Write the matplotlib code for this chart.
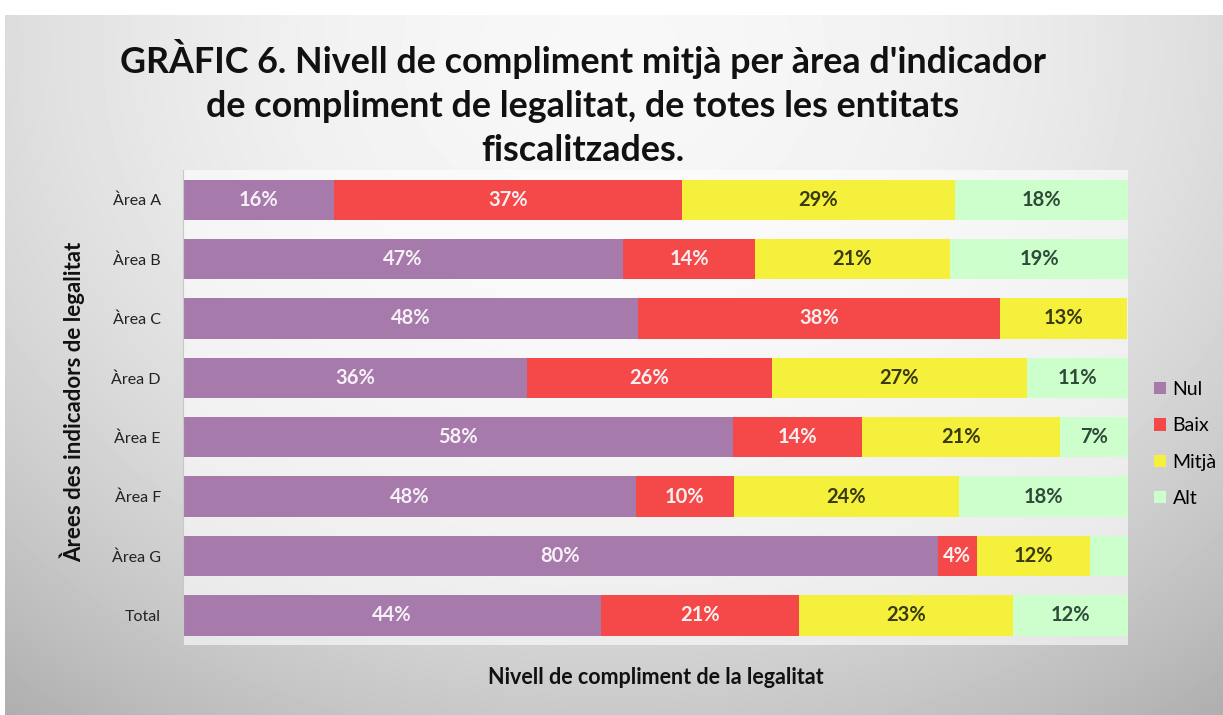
import matplotlib
matplotlib.use("Agg")
import matplotlib.pyplot as plt
import numpy as np

plt.rcParams['font.family'] = ['Lato', 'DejaVu Sans']

areas = ["Àrea A", "Àrea B", "Àrea C", "Àrea D", "Àrea E", "Àrea F", "Àrea G", "Total"]
levels = ["Nul", "Baix", "Mitjà", "Alt"]
nul = [16.0, 46.6, 48.1, 36.4, 58.2, 47.9, 79.9, 44.2]
baix = [36.8, 13.9, 38.4, 25.9, 13.6, 10.4, 4.1, 21.0]
mitja = [28.9, 20.7, 13.4, 27.0, 21.0, 23.8, 12.0, 22.6]
alt = [18.3, 18.8, 0.0, 10.7, 7.2, 17.9, 4.0, 12.2]
# labels that were left out in the original
hidden = [("Àrea G", "Alt"), ("Àrea C", "Alt")]

colors = ["#a67bab", "#f54848", "#f5f03c", "#ccffcc"]
text_colors = ["#f8f0f8", "#f8f0f0", "#3a3a10", "#2f4a38"]

W, H = 1223, 715
fig = plt.figure(figsize=(W / 100, H / 100), dpi=100)
fig.patch.set_facecolor("white")

# gray gradient background
bg = fig.add_axes([5 / W, 0, 1 - 5 / W, 1 - 15 / H])
yy, xx = np.mgrid[0:1:200j, 0:1:300j]
d = np.sqrt(((xx - 0.5) / 0.75) ** 2 + ((yy - 0.05) / 1.1) ** 2)
shade = 0.97 - 0.24 * d ** 2
bg.imshow(np.clip(shade, 0.68, 0.97), cmap="gray", vmin=0, vmax=1, aspect="auto",
          extent=[0, 1, 1, 0], interpolation="bilinear")
bg.axis("off")

ax = fig.add_axes([183 / W, 1 - 645 / H, (1128 - 183) / W, (645 - 170) / H])
ax.set_facecolor((1, 1, 1, 0.6))

series = [nul, baix, mitja, alt]
y = np.arange(len(areas))
left = np.zeros(len(areas))
for i, (lvl, vals) in enumerate(zip(levels, series)):
    vals = np.array(vals)
    ax.barh(y, vals, left=left, height=0.68, color=colors[i], label=lvl)
    for j, v in enumerate(vals):
        if v > 0 and (areas[j], lvl) not in hidden:
            ax.text(left[j] + v / 2, y[j], f"{round(v):.0f}%", ha="center", va="center",
                    fontsize=14.5, fontweight="bold", color=text_colors[i])
    left += vals

ax.set_xlim(0, 100)
ax.set_ylim(len(areas) - 0.5, -0.5)
ax.set_yticks(y)
ax.set_yticklabels(areas, fontsize=11.5, color="#222222")
ax.set_xticks([])
ax.tick_params(axis="y", length=0, pad=16)
for s in ["top", "right", "bottom"]:
    ax.spines[s].set_visible(False)
ax.spines["left"].set_color("#c8c8c8")

ax.set_xlabel("Nivell de compliment de la legalitat", fontsize=15.5, fontweight="bold",
              labelpad=16, color="#111111")
fig.text(72 / W, 1 - 402 / H, "Àrees des indicadors de legalitat", rotation=90,
         ha="center", va="center", fontsize=16, fontweight="bold", color="#111111")

fig.text(583 / W, 1 - 103 / H,
         "GRÀFIC 6. Nivell de compliment mitjà per àrea d'indicador\n"
         "de compliment de legalitat, de totes les entitats\nfiscalitzades.",
         ha="center", va="center", fontsize=25.8, fontweight="bold",
         linespacing=1.42, color="#111111")

ax.legend(loc="center left", bbox_to_anchor=(1128 / W + 0.007, 1 - 444 / H),
          bbox_transform=fig.transFigure, frameon=False, fontsize=14,
          handlelength=0.6, handleheight=0.6, handletextpad=0.35, labelspacing=1.0)

fig.savefig("out.png", dpi=100)
